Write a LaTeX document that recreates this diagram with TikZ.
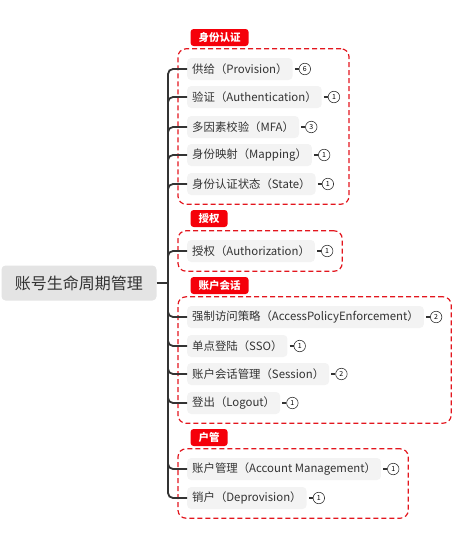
\documentclass[tikz,border=0pt]{standalone}
\usepackage{fontspec}
\setmainfont{Noto Sans CJK SC}
\usepackage{tikz}
\usetikzlibrary{positioning,fit,backgrounds}
\definecolor{ink}{HTML}{333333}
\definecolor{leaffill}{HTML}{F3F3F3}
\definecolor{rootfill}{HTML}{E4E4E4}
\definecolor{tabred}{HTML}{F5000A}
\definecolor{dashred}{HTML}{E3161E}
\tikzset{
  rootbox/.style={rectangle, rounded corners=4pt, fill=rootfill, text=ink, minimum width=155pt,
                  minimum height=35pt, font=\fontsize{16pt}{18pt}\selectfont},
  leaf/.style={rectangle, rounded corners=4pt, fill=leaffill, text=ink, inner xsep=5pt, inner ysep=0pt,
               minimum height=22pt, anchor=west, font=\fontsize{11.4pt}{13pt}\selectfont},
  badge/.style={circle, draw=ink, fill=white, line width=0.6pt, minimum size=11.5pt, inner sep=0pt,
                font=\fontsize{7pt}{8pt}\selectfont},
  tab/.style={rectangle, rounded corners=3pt, fill=tabred, text=white, anchor=south west, minimum height=17pt,
              inner xsep=8pt, inner ysep=0pt, font=\fontsize{10.5pt}{12pt}\selectfont\bfseries},
  grp/.style={rectangle, rounded corners=8pt, draw=dashred, dash pattern=on 5pt off 3pt, line width=1.2pt,
              inner sep=9pt},
  branch/.style={draw=ink, line width=1.8pt, rounded corners=5pt},
  tick/.style={draw=ink, line width=1.6pt}
}
\begin{document}
\begin{tikzpicture}[x=1pt, y=-1pt]
  \useasboundingbox (0,0) rectangle (462,550);
  \node[rootbox] (root) at (79,283) {账号生命周期管理};
  \coordinate (hub) at (168,283);
  % 身份认证
  \node[leaf] (prov) at (187,69) {供给（Provision）};
  \node[leaf] (authn) at (187,97) {验证（Authentication）};
  \node[leaf] (mfa) at (187,127) {多因素校验（MFA）};
  \node[leaf] (map) at (187,155) {身份映射（Mapping）};
  \node[leaf] (state) at (187,184) {身份认证状态（State）};
  \node[badge, right=6pt of prov] (provb) {6};
  \node[badge, right=6pt of authn] (authnb) {1};
  \node[badge, right=6pt of mfa] (mfab) {3};
  \node[badge, right=6pt of map] (mapb) {1};
  \node[badge, right=6pt of state] (stateb) {1};
  % 授权
  \node[leaf] (authz) at (187,251) {授权（Authorization）};
  \node[badge, right=6pt of authz] (authzb) {1};
  % 账户会话
  \node[leaf] (ape) at (187,317) {强制访问策略（AccessPolicyEnforcement）};
  \node[leaf] (sso) at (187,346) {单点登陆（SSO）};
  \node[leaf] (sess) at (187,374) {账户会话管理（Session）};
  \node[leaf] (logout) at (187,403) {登出（Logout）};
  \node[badge, right=6pt of ape] (apeb) {2};
  \node[badge, right=6pt of sso] (ssob) {1};
  \node[badge, right=6pt of sess] (sessb) {2};
  \node[badge, right=6pt of logout] (logoutb) {1};
  % 户管
  \node[leaf] (acct) at (187,469) {账户管理（Account Management）};
  \node[leaf] (deprov) at (187,498) {销户（Deprovision）};
  \node[badge, right=6pt of acct] (acctb) {1};
  \node[badge, right=6pt of deprov] (deprovb) {1};

  \node[grp, fit=(prov)(authnb)(state)] (idgrp) {};
  \node[grp, fit=(authz)(authzb)] (azgrp) {};
  \node[grp, fit=(ape)(apeb)(logout)] (sesgrp) {};
  \node[grp, fit=(acct)(acctb)(deprov)] (acgrp) {};
  \node[tab] (idtab) at ([xshift=13pt,yshift=2pt]idgrp.north west) {身份认证};
  \node[tab] (aztab) at ([xshift=13pt,yshift=3pt]azgrp.north west) {授权};
  \node[tab] (sestab) at ([xshift=13pt,yshift=2pt]sesgrp.north west) {账户会话};
  \node[tab] (actab) at ([xshift=13pt,yshift=2pt]acgrp.north west) {户管};

  \draw[branch] (root.east) -- (hub);
  \foreach \n in {prov,authn,mfa,map,state,authz,ape,sso,sess,logout,acct,deprov}
    \draw[branch] (hub) |- (\n.west);
  \foreach \n in {prov,authn,mfa,map,state,authz,ape,sso,sess,logout,acct,deprov}
    \draw[tick, shorten <=2pt] (\n.east) -- (\n b.west);
\end{tikzpicture}
\end{document}
